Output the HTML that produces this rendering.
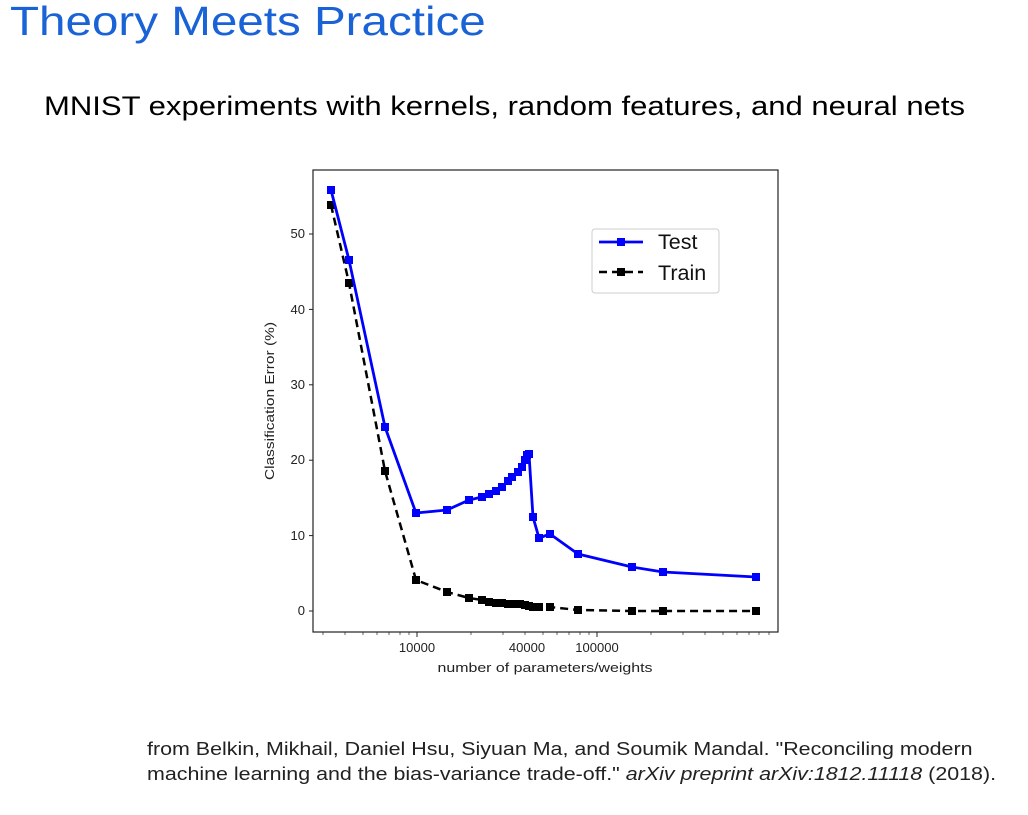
<!DOCTYPE html>
<html><head><meta charset="utf-8"><style>
body{margin:0;width:1028px;height:815px;background:#fff;overflow:hidden;font-family:"Liberation Sans",sans-serif;position:relative}
.t{position:absolute;white-space:nowrap;transform-origin:0 0}
</style></head><body>
<div class="t" style="left:10px;top:-2px;font-size:41px;color:#1a63d6;transform:scaleX(1.16)">Theory Meets Practice</div>
<div class="t" style="left:44px;top:91px;font-size:27px;color:#000;transform:scaleX(1.15)">MNIST experiments with kernels, random features, and neural nets</div>
<div class="t" style="left:147px;top:737px;font-size:18px;color:#222;line-height:25px;transform:scaleX(1.19)">from Belkin, Mikhail, Daniel Hsu, Siyuan Ma, and Soumik Mandal. "Reconciling modern<br>machine learning and the bias-variance trade-off." <i>arXiv preprint arXiv:1812.11118</i> (2018).</div>
<svg width="1028" height="815" style="position:absolute;left:0;top:0" font-family="Liberation Sans, DejaVu Sans, sans-serif">
<rect x="313" y="170" width="465" height="462" fill="none" stroke="#222" stroke-width="1.2"/>
<g stroke="#222" stroke-width="1">
<line x1="313" x2="309" y1="611" y2="611"/><line x1="313" x2="309" y1="535.6" y2="535.6"/><line x1="313" x2="309" y1="460.2" y2="460.2"/><line x1="313" x2="309" y1="384.8" y2="384.8"/><line x1="313" x2="309" y1="309.4" y2="309.4"/><line x1="313" x2="309" y1="234" y2="234"/>
<line x1="417" x2="417" y1="632" y2="637"/><line x1="597" x2="597" y1="632" y2="637"/>
<g stroke-width="0.7">
<line x1="323" x2="323" y1="632" y2="635"/><line x1="345" x2="345" y1="632" y2="635"/><line x1="363" x2="363" y1="632" y2="635"/><line x1="377" x2="377" y1="632" y2="635"/><line x1="389" x2="389" y1="632" y2="635"/><line x1="400" x2="400" y1="632" y2="635"/><line x1="409" x2="409" y1="632" y2="635"/>
<line x1="471" x2="471" y1="632" y2="635"/><line x1="503" x2="503" y1="632" y2="635"/><line x1="525" x2="525" y1="632" y2="635"/><line x1="543" x2="543" y1="632" y2="635"/><line x1="557" x2="557" y1="632" y2="635"/><line x1="569" x2="569" y1="632" y2="635"/><line x1="580" x2="580" y1="632" y2="635"/><line x1="589" x2="589" y1="632" y2="635"/>
<line x1="651" x2="651" y1="632" y2="635"/><line x1="683" x2="683" y1="632" y2="635"/><line x1="705" x2="705" y1="632" y2="635"/><line x1="723" x2="723" y1="632" y2="635"/><line x1="737" x2="737" y1="632" y2="635"/><line x1="749" x2="749" y1="632" y2="635"/><line x1="759" x2="759" y1="632" y2="635"/><line x1="769" x2="769" y1="632" y2="635"/>
</g></g>
<g font-size="13" fill="#222" text-anchor="end">
<text x="305" y="615">0</text><text x="305" y="540">10</text><text x="305" y="464">20</text><text x="305" y="389">30</text><text x="305" y="314">40</text><text x="305" y="238">50</text>
</g>
<g font-size="13" fill="#222" text-anchor="middle">
<text x="417" y="652">10000</text><text x="527" y="652">40000</text><text x="597" y="652">100000</text>
<text x="545" y="672" textLength="215" lengthAdjust="spacingAndGlyphs">number of parameters/weights</text>
<text transform="translate(274,401) rotate(-90)" textLength="158" lengthAdjust="spacingAndGlyphs">Classification Error (%)</text>
</g>
<polyline fill="none" stroke="#000" stroke-width="2.5" stroke-dasharray="8,5" points="331,205 349,283 385,471 416,580 447,592 469,598 482,600 489,602 496,603 502,603 508,604 514,604 520,604 525,605 529,606 533,607 539,607 550,607 578,610 632,611 663,611 756,611"/>
<g fill="#000"><rect x="327" y="201" width="8" height="8"/><rect x="345" y="279" width="8" height="8"/><rect x="381" y="467" width="8" height="8"/><rect x="412" y="576" width="8" height="8"/><rect x="443" y="588" width="8" height="8"/><rect x="465" y="594" width="8" height="8"/><rect x="478" y="596" width="8" height="8"/><rect x="485" y="598" width="8" height="8"/><rect x="492" y="599" width="8" height="8"/><rect x="498" y="599" width="8" height="8"/><rect x="504" y="600" width="8" height="8"/><rect x="510" y="600" width="8" height="8"/><rect x="516" y="600" width="8" height="8"/><rect x="521" y="601" width="8" height="8"/><rect x="525" y="602" width="8" height="8"/><rect x="529" y="603" width="8" height="8"/><rect x="535" y="603" width="8" height="8"/><rect x="546" y="603" width="8" height="8"/><rect x="574" y="606" width="8" height="8"/><rect x="628" y="607" width="8" height="8"/><rect x="659" y="607" width="8" height="8"/><rect x="752" y="607" width="8" height="8"/></g>
<polyline fill="none" stroke="#0000ff" stroke-width="2.8" stroke-linejoin="round" points="331,190 349,260 385,427 416,513 447,510 469,500 482,497 489,494 496,491 502,487 508,481 512,477 518,472 522,467 525,460 527,455 529,454 533,517 539,538 550,534 578,554 632,567 663,572 756,577"/>
<g fill="#0000ff"><rect x="327" y="186" width="8" height="8"/><rect x="345" y="256" width="8" height="8"/><rect x="381" y="423" width="8" height="8"/><rect x="412" y="509" width="8" height="8"/><rect x="443" y="506" width="8" height="8"/><rect x="465" y="496" width="8" height="8"/><rect x="478" y="493" width="8" height="8"/><rect x="485" y="490" width="8" height="8"/><rect x="492" y="487" width="8" height="8"/><rect x="498" y="483" width="8" height="8"/><rect x="504" y="477" width="8" height="8"/><rect x="508" y="473" width="8" height="8"/><rect x="514" y="468" width="8" height="8"/><rect x="518" y="463" width="8" height="8"/><rect x="521" y="456" width="8" height="8"/><rect x="523" y="451" width="8" height="8"/><rect x="525" y="450" width="8" height="8"/><rect x="529" y="513" width="8" height="8"/><rect x="535" y="534" width="8" height="8"/><rect x="546" y="530" width="8" height="8"/><rect x="574" y="550" width="8" height="8"/><rect x="628" y="563" width="8" height="8"/><rect x="659" y="568" width="8" height="8"/><rect x="752" y="573" width="8" height="8"/></g>
<rect x="592" y="229" width="127" height="64" rx="3" fill="#fff" stroke="#ccc" stroke-width="1"/>
<line x1="599" x2="643" y1="242" y2="242" stroke="#0000ff" stroke-width="2.8"/><rect x="617" y="238" width="8" height="8" fill="#0000ff"/>
<line x1="599" x2="643" y1="272" y2="272" stroke="#000" stroke-width="2.5" stroke-dasharray="8,5"/><rect x="617" y="268" width="8" height="8" fill="#000"/>
<text x="658" y="249" font-size="21.5" fill="#111">Test</text>
<text x="658" y="280" font-size="21.5" fill="#111">Train</text>
</svg>
</body></html>
